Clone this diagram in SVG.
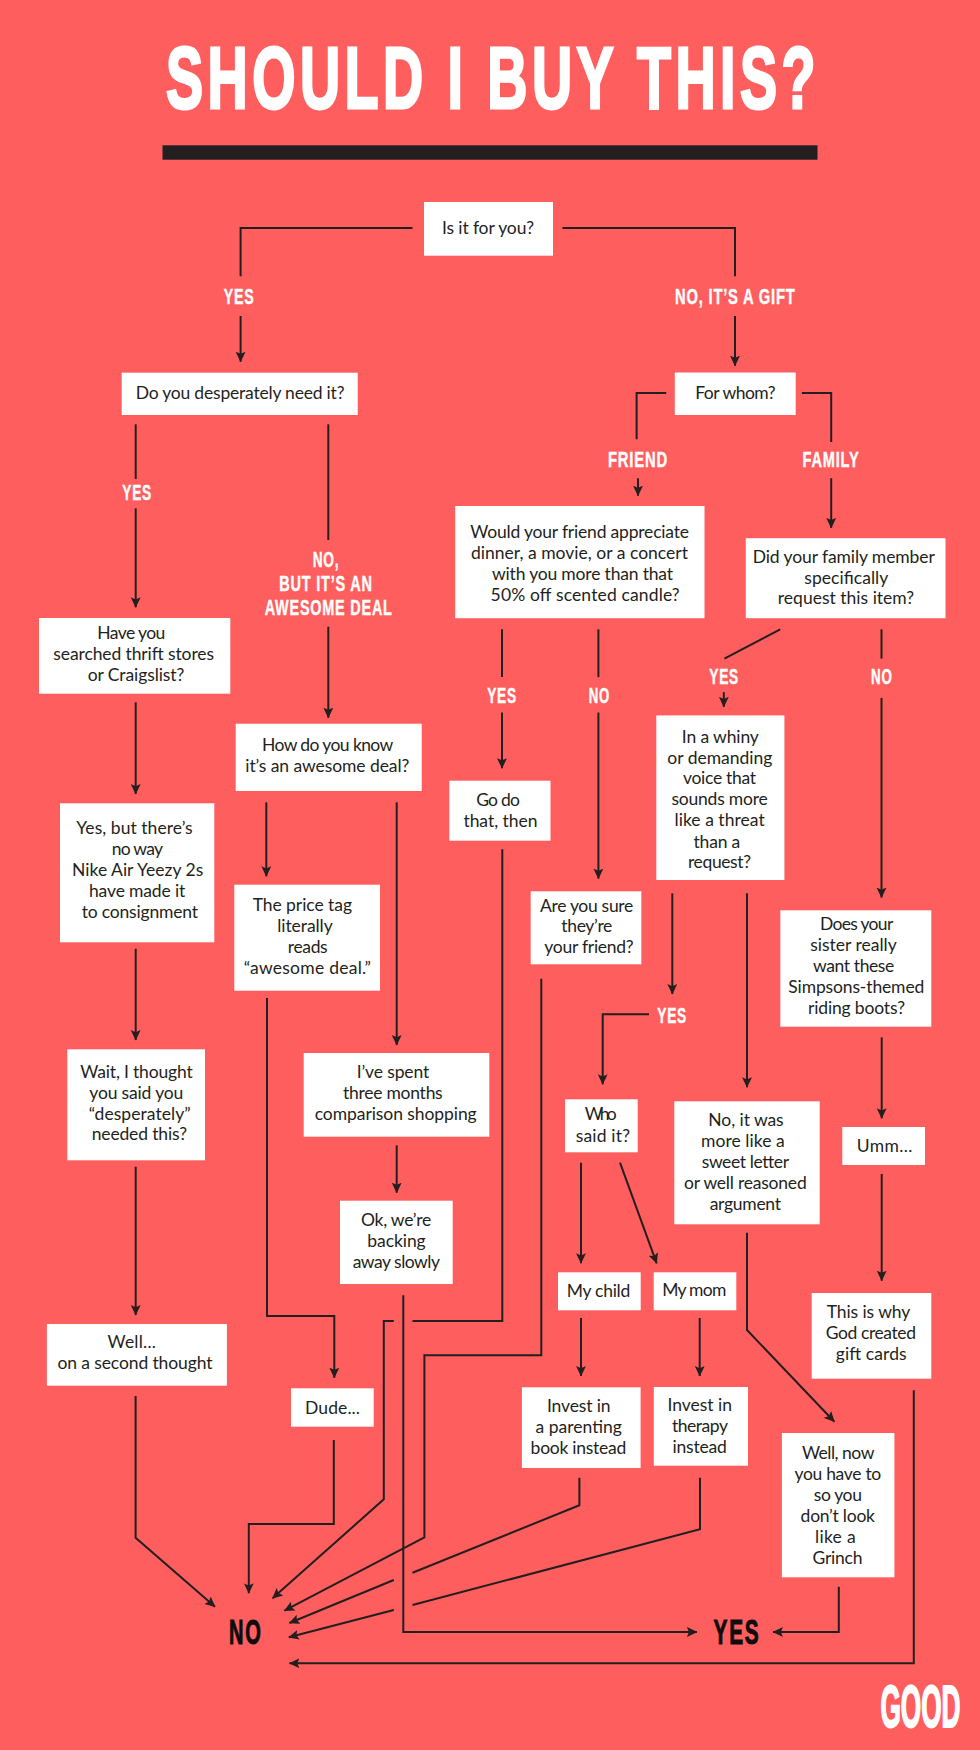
<svg xmlns="http://www.w3.org/2000/svg" width="980" height="1750" viewBox="0 0 980 1750">
<style>
.b{fill:#fff}
.t{font-family:"Lato","Liberation Sans",sans-serif;font-size:17.5px;fill:#231f20}
.h{font-family:"Liberation Sans Narrow","Liberation Sans",sans-serif;font-weight:700}
.l{font-size:22px;fill:#fff;stroke:#fff;stroke-width:.4px;letter-spacing:1.2px}
.c path{fill:none;stroke:#231f20;stroke-width:2}
.c path.a{marker-end:url(#h)}
</style>
<defs><marker id="h" markerUnits="userSpaceOnUse" viewBox="0 0 10 10" markerWidth="10.5" markerHeight="10.5" refX="9.5" refY="5" orient="auto"><path d="M0 0.3L10 5L0 9.7L2 5z" fill="#231f20"/></marker></defs>
<rect width="980" height="1750" fill="#ff5e5e"/>
<g id="title">
<text class="h" x="166" y="107.6" textLength="654" lengthAdjust="spacingAndGlyphs" style="font-size:87.5px;letter-spacing:7px;fill:#fff;stroke:#fff;stroke-width:3px">SHOULD I BUY THIS?</text>
<rect x="162.5" y="145.3" width="655" height="14.4" fill="#231f20"/>
</g>
<g id="connectors" class="c">
<path d="M412.5 228H240.6V276.3"/>
<path d="M562.5 228H735V276.3"/>
<path class="a" d="M240.6 316V361.7"/>
<path class="a" d="M735 316V365.7"/>
<path d="M666.2 392.9H636.6V439.3"/>
<path d="M801.9 392.9H831.2V442.1"/>
<path class="a" d="M638 478.2V495.7"/>
<path class="a" d="M831.2 478.2V527.9"/>
<path d="M502 629.3V677.1"/>
<path class="a" d="M502 712.5V768.2"/>
<path d="M598.4 629.3V677.1"/>
<path class="a" d="M598.4 712.5V878.6"/>
<path d="M780.2 629.3L724.4 658.6"/>
<path class="a" d="M723.8 692.1V706.8"/>
<path d="M881.5 629.3V658.6"/>
<path class="a" d="M881.5 697.9V897.5"/>
<path d="M135.7 424.3V479"/>
<path class="a" d="M135.7 508.3V607.3"/>
<path d="M328.3 424.3V540"/>
<path class="a" d="M328.3 626.7V717.7"/>
<path class="a" d="M135.7 702.3V794"/>
<path class="a" d="M266.3 802.3V876.3"/>
<path class="a" d="M396.7 802.3V1045"/>
<path class="a" d="M135.7 948.7V1040"/>
<path class="a" d="M135.7 1166.7V1315"/>
<path class="a" d="M267 998V1316H334.3V1377.7"/>
<path class="a" d="M396.7 1145.3V1192.7"/>
<path class="a" d="M403.3 1295.3V1632H696.9"/>
<path d="M502.3 849.3V1321H412.5"/>
<path class="a" d="M393.8 1321H383.8V1499.3L272.5 1598.3"/>
<path class="a" d="M541.3 978.7V1355.3H424.4V1537.3L284.4 1610.7"/>
<path class="a" d="M135.6 1396V1537.7L215 1606.7"/>
<path class="a" d="M333.8 1440V1524H248.8V1593.3"/>
<path d="M579.4 1477.7V1505.3L412.5 1572.7"/>
<path class="a" d="M393.8 1580L289.4 1623"/>
<path d="M700 1477.7V1529.3L412.5 1605"/>
<path class="a" d="M393.8 1610L288.8 1637.3"/>
<path class="a" d="M838.8 1586.7V1632H773"/>
<path class="a" d="M913.8 1390.3V1663.3H289.4"/>
<path class="a" d="M747 1232.7V1330L834.4 1421.7"/>
<path class="a" d="M672.3 893.3V994"/>
<path class="a" d="M747 893.3V1087.3"/>
<path class="a" d="M649 1014.3H602.7V1084.3"/>
<path class="a" d="M581 1162.7V1263.3"/>
<path class="a" d="M620 1162.7L656.7 1263.3"/>
<path class="a" d="M581 1318V1376"/>
<path class="a" d="M699.7 1318V1376"/>
<path class="a" d="M881.7 1037.3V1118.3"/>
<path class="a" d="M881.7 1174V1280.7"/>
</g>
<g id="labels">
<text class="h l" x="223.8" y="304.3" textLength="30.6" lengthAdjust="spacingAndGlyphs">YES</text>
<text class="h l" x="675" y="304.3" textLength="120.6" lengthAdjust="spacingAndGlyphs">NO, IT’S A GIFT</text>
<text class="h l" x="122.3" y="500" textLength="29.7" lengthAdjust="spacingAndGlyphs">YES</text>
<text class="h l" x="312.7" y="566.7" textLength="26.6" lengthAdjust="spacingAndGlyphs">NO,</text>
<text class="h l" x="279.3" y="590.7" textLength="93.4" lengthAdjust="spacingAndGlyphs">BUT IT’S AN</text>
<text class="h l" x="264.7" y="614.7" textLength="128" lengthAdjust="spacingAndGlyphs">AWESOME DEAL</text>
<text class="h l" x="608" y="467.1" textLength="60" lengthAdjust="spacingAndGlyphs">FRIEND</text>
<text class="h l" x="802.6" y="467.1" textLength="56.8" lengthAdjust="spacingAndGlyphs">FAMILY</text>
<text class="h l" x="487.2" y="702.9" textLength="29.6" lengthAdjust="spacingAndGlyphs">YES</text>
<text class="h l" x="588.8" y="702.9" textLength="21.2" lengthAdjust="spacingAndGlyphs">NO</text>
<text class="h l" x="709.3" y="684" textLength="29.6" lengthAdjust="spacingAndGlyphs">YES</text>
<text class="h l" x="871" y="684" textLength="21.5" lengthAdjust="spacingAndGlyphs">NO</text>
<text class="h l" x="657.3" y="1022.7" textLength="29.7" lengthAdjust="spacingAndGlyphs">YES</text>
</g>
<g id="n-for-you"><rect class="b" x="424" y="202" width="129" height="53.7"/><text class="t" x="442" y="234" textLength="92">Is it for you?</text></g>
<g id="n-desperately"><rect class="b" x="121.7" y="372.7" width="236" height="42.3"/><text class="t" x="135.7" y="399.3" textLength="208.8">Do you desperately need it?</text></g>
<g id="n-for-whom"><rect class="b" x="674.8" y="372.5" width="120.9" height="42.5"/><text class="t" x="695.2" y="399.3" textLength="80.5">For whom?</text></g>
<g id="n-thrift"><rect class="b" x="39" y="618" width="191.3" height="75.7"/><text class="t" x="97.3" y="639.3" textLength="68">Have you</text><text class="t" x="53.3" y="660.3" textLength="160.7">searched thrift stores</text><text class="t" x="87.7" y="681" textLength="96.6">or Craigslist?</text></g>
<g id="n-how-know"><rect class="b" x="235.7" y="723.7" width="186" height="67.3"/><text class="t" x="262" y="751" textLength="131.3">How do you know</text><text class="t" x="245.3" y="772" textLength="164">it’s an awesome deal?</text></g>
<g id="n-yeezy"><rect class="b" x="60" y="803.3" width="154.3" height="139"/><text class="t" x="76.3" y="834" textLength="116.4">Yes, but there’s</text><text class="t" x="111.7" y="855" textLength="51.3">no way</text><text class="t" x="72" y="876" textLength="131.3">Nike Air Yeezy 2s</text><text class="t" x="89" y="897" textLength="96.3">have made it</text><text class="t" x="81.7" y="918" textLength="116.3">to consignment</text></g>
<g id="n-price-tag"><rect class="b" x="234.3" y="884.7" width="145.7" height="106"/><text class="t" x="252.7" y="911" textLength="99.3">The price tag</text><text class="t" x="277.3" y="932" textLength="55.4">literally</text><text class="t" x="287.7" y="953" textLength="40">reads</text><text class="t" x="243.7" y="974" textLength="127.3">“awesome deal.”</text></g>
<g id="n-wait"><rect class="b" x="67.3" y="1049.3" width="137.7" height="111"/><text class="t" x="80.3" y="1077.7" textLength="112.4">Wait, I thought</text><text class="t" x="89.3" y="1098.7" textLength="94">you said you</text><text class="t" x="88.7" y="1119.7" textLength="102">“desperately”</text><text class="t" x="91.7" y="1140.3" textLength="95.3">needed this?</text></g>
<g id="n-spent"><rect class="b" x="303.7" y="1053" width="185.6" height="83.7"/><text class="t" x="356.7" y="1078.3" textLength="72.6">I’ve spent</text><text class="t" x="343" y="1099.3" textLength="99.7">three months</text><text class="t" x="314.7" y="1120.3" textLength="162">comparison shopping</text></g>
<g id="n-backing"><rect class="b" x="340" y="1200.7" width="112.7" height="83.3"/><text class="t" x="361" y="1225.7" textLength="70.3">Ok, we’re</text><text class="t" x="367.3" y="1246.7" textLength="58.4">backing</text><text class="t" x="352.7" y="1267.7" textLength="87.3">away slowly</text></g>
<g id="n-second-thought"><rect class="b" x="46.9" y="1324" width="180" height="61.7"/><text class="t" x="107.5" y="1348.3" textLength="48.5">Well...</text><text class="t" x="57.5" y="1369.3" textLength="155">on a second thought</text></g>
<g id="n-dude"><rect class="b" x="291" y="1388.3" width="82.7" height="38.4"/><text class="t" x="305" y="1414.3" textLength="55">Dude...</text></g>
<g id="n-friend-q"><rect class="b" x="455.2" y="506" width="249.3" height="112.2"/><text class="t" x="470.3" y="537.5" textLength="218.7">Would your friend appreciate</text><text class="t" x="471" y="558.6" textLength="217">dinner, a movie, or a concert</text><text class="t" x="492" y="579.6" textLength="181">with you more than that</text><text class="t" x="490.6" y="600.7" textLength="189.1">50% off scented candle?</text></g>
<g id="n-family-q"><rect class="b" x="745.8" y="538.2" width="199.7" height="80"/><text class="t" x="752.7" y="562.5" textLength="182.1">Did your family member</text><text class="t" x="804.3" y="583.6" textLength="84">specifically</text><text class="t" x="777.8" y="604.3" textLength="136.4">request this item?</text></g>
<g id="n-go-do"><rect class="b" x="449.3" y="780.7" width="101.2" height="60"/><text class="t" x="476.2" y="806" textLength="43.7">Go do</text><text class="t" x="463.4" y="827" textLength="74.1">that, then</text></g>
<g id="n-whiny"><rect class="b" x="656.3" y="715.4" width="128.1" height="164.6"/><text class="t" x="681.7" y="742.5" textLength="77.2">In a whiny</text><text class="t" x="667.3" y="763.6" textLength="105">or demanding</text><text class="t" x="683" y="784.3" textLength="73">voice that</text><text class="t" x="671.4" y="805.4" textLength="96.4">sounds more</text><text class="t" x="674.5" y="826.4" textLength="90.2">like a threat</text><text class="t" x="693.4" y="847.5" textLength="46.9">than a</text><text class="t" x="688" y="868.2" textLength="63">request?</text></g>
<g id="n-sure"><rect class="b" x="530.7" y="891.3" width="110.6" height="73"/><text class="t" x="540" y="911.7" textLength="93.3">Are you sure</text><text class="t" x="561.3" y="932.3" textLength="51">they’re</text><text class="t" x="544.3" y="953.3" textLength="89.4">your friend?</text></g>
<g id="n-simpsons"><rect class="b" x="780.3" y="910.3" width="151" height="116.4"/><text class="t" x="820" y="930" textLength="73.3">Does your</text><text class="t" x="810.3" y="951" textLength="86.4">sister really</text><text class="t" x="813" y="972" textLength="81.3">want these</text><text class="t" x="788.3" y="993" textLength="136">Simpsons-themed</text><text class="t" x="808" y="1014" textLength="97">riding boots?</text></g>
<g id="n-who"><rect class="b" x="565" y="1099.3" width="72.7" height="53"/><text class="t" x="584.7" y="1120.3" textLength="32">Who</text><text class="t" x="575.7" y="1141.7" textLength="54.3">said it?</text></g>
<g id="n-letter"><rect class="b" x="674.3" y="1101.3" width="145.4" height="123"/><text class="t" x="708.3" y="1126.3" textLength="75.4">No, it was</text><text class="t" x="701" y="1147.3" textLength="83.7">more like a</text><text class="t" x="701.7" y="1168.3" textLength="87.3">sweet letter</text><text class="t" x="684" y="1189.3" textLength="122.7">or well reasoned</text><text class="t" x="709.7" y="1210.3" textLength="71.3">argument</text></g>
<g id="n-umm"><rect class="b" x="842.3" y="1127" width="82.7" height="38"/><text class="t" x="856.7" y="1151.7" textLength="55.6">Umm...</text></g>
<g id="n-child"><rect class="b" x="558" y="1272.3" width="82.7" height="38"/><text class="t" x="566.7" y="1297.3" textLength="63.6">My child</text></g>
<g id="n-mom"><rect class="b" x="653.7" y="1272.3" width="82.6" height="38"/><text class="t" x="662.3" y="1296" textLength="64">My mom</text></g>
<g id="n-gift-cards"><rect class="b" x="811.7" y="1293" width="119.6" height="85.7"/><text class="t" x="826.7" y="1318.3" textLength="83.6">This is why</text><text class="t" x="825.7" y="1339.3" textLength="90.3">God created</text><text class="t" x="835.7" y="1360.3" textLength="71">gift cards</text></g>
<g id="n-parenting"><rect class="b" x="521.9" y="1387.3" width="118.7" height="80.7"/><text class="t" x="546.9" y="1412" textLength="63.7">Invest in</text><text class="t" x="535.6" y="1432.7" textLength="86.3">a parenting</text><text class="t" x="530.6" y="1453.7" textLength="95.7">book instead</text></g>
<g id="n-therapy"><rect class="b" x="653.8" y="1387" width="94.2" height="78.7"/><text class="t" x="667.5" y="1411.3" textLength="64.4">Invest in</text><text class="t" x="671.9" y="1432" textLength="56.1">therapy</text><text class="t" x="672.5" y="1452.7" textLength="54.4">instead</text></g>
<g id="n-grinch"><rect class="b" x="781.9" y="1433" width="112.5" height="144.3"/><text class="t" x="801.9" y="1459" textLength="72.5">Well, now</text><text class="t" x="794.4" y="1480" textLength="86.9">you have to</text><text class="t" x="813.8" y="1501" textLength="48.1">so you</text><text class="t" x="800.6" y="1521.7" textLength="74.4">don’t look</text><text class="t" x="815" y="1542.7" textLength="40.6">like a</text><text class="t" x="812.5" y="1563.7" textLength="50">Grinch</text></g>
<g id="n-no"><text class="h" x="229" y="1643.8" textLength="33.5" lengthAdjust="spacingAndGlyphs" style="font-size:35px;letter-spacing:3px;fill:#0d0d0d;stroke:#0d0d0d;stroke-width:1px">NO</text></g>
<g id="n-yes"><text class="h" x="713.5" y="1643.8" textLength="47" lengthAdjust="spacingAndGlyphs" style="font-size:35px;letter-spacing:3px;fill:#0d0d0d;stroke:#0d0d0d;stroke-width:1px">YES</text></g>
<g id="logo"><text class="h" x="880.5" y="1727" textLength="80" lengthAdjust="spacingAndGlyphs" style="font-size:60px;fill:#fff;stroke:#fff;stroke-width:2px">GOOD</text></g>
</svg>
